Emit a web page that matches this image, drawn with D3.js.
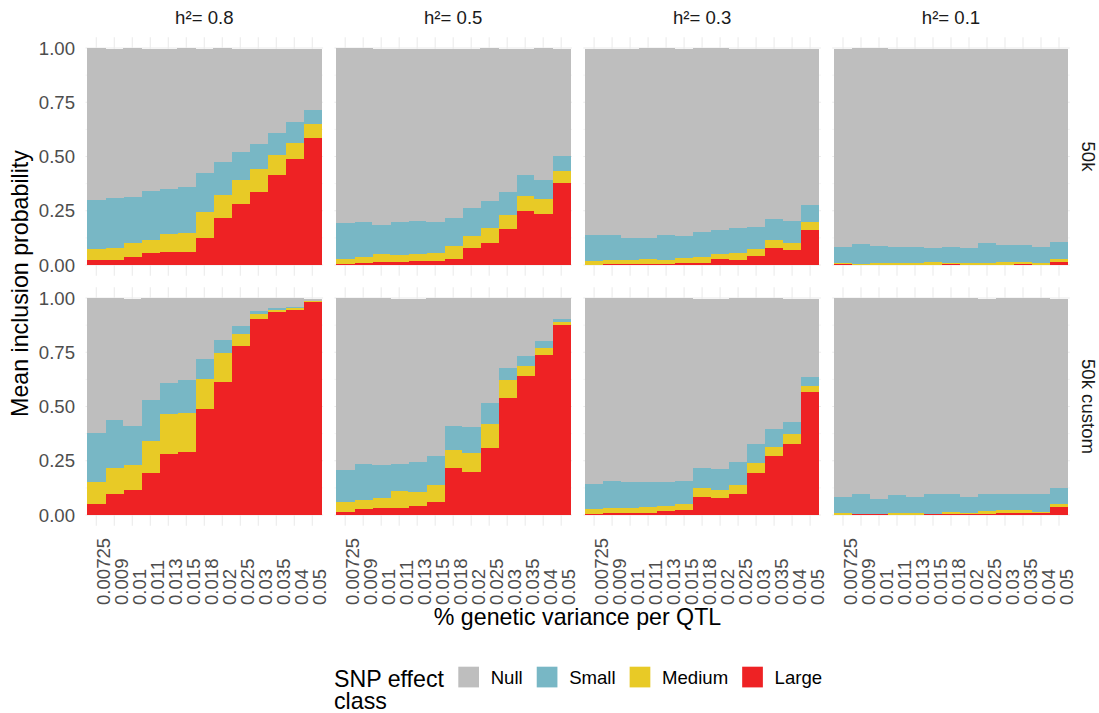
<!DOCTYPE html>
<html>
<head>
<meta charset="utf-8">
<script src="https://cdn.jsdelivr.net/npm/d3@7"></script>
<style>
  html, body { margin: 0; padding: 0; background: #ffffff; }
  svg { display: block; font-family: "Liberation Sans", Arial, Helvetica, sans-serif; }
</style>
</head>
<body>
<svg id="chart" width="1099" height="713"></svg>
<script>
// ---------------- data ----------------
const categories = ["0.00725","0.009","0.01","0.011","0.013","0.015","0.018","0.02","0.025","0.03","0.035","0.04","0.05"];
const heritabilities = ["h\u00b2= 0.8","h\u00b2= 0.5","h\u00b2= 0.3","h\u00b2= 0.1"];
const chips = ["50k","50k custom"];
const classes = ["Null","Small","Medium","Large"];
const classColors = ["#BEBEBE","#78B7C5","#E8CA26","#EE2224"];
const yTicks = [0, 0.25, 0.5, 0.75, 1];
const yTickLabels = ["0.00","0.25","0.50","0.75","1.00"];
const legendTitleLines = ["SNP effect", "class"];

// 50k, h2 = 0.8
const large_50k_h08  = [0.023,0.023,0.037,0.055,0.060,0.060,0.124,0.217,0.281,0.336,0.415,0.488,0.585];
const medium_50k_h08 = [0.051,0.055,0.064,0.060,0.083,0.087,0.120,0.106,0.111,0.106,0.092,0.074,0.065];
const small_50k_h08  = [0.226,0.231,0.212,0.226,0.207,0.212,0.180,0.152,0.129,0.116,0.101,0.097,0.064];
const null_50k_h08   = [0.698,0.686,0.687,0.654,0.645,0.641,0.571,0.525,0.474,0.437,0.387,0.336,0.281];
// 50k, h2 = 0.5
const large_50k_h05  = [0.005,0.009,0.014,0.014,0.018,0.018,0.028,0.078,0.101,0.166,0.249,0.235,0.378];
const medium_50k_h05 = [0.023,0.028,0.037,0.032,0.033,0.037,0.060,0.056,0.070,0.064,0.069,0.069,0.055];
const small_50k_h05  = [0.166,0.161,0.133,0.152,0.152,0.143,0.129,0.129,0.124,0.106,0.097,0.088,0.069];
const null_50k_h05   = [0.806,0.802,0.811,0.797,0.792,0.797,0.778,0.732,0.705,0.659,0.580,0.608,0.493];
// 50k, h2 = 0.3
const large_50k_h03  = [0.002,0.005,0.005,0.003,0.005,0.009,0.009,0.028,0.023,0.041,0.078,0.069,0.161];
const medium_50k_h03 = [0.016,0.018,0.018,0.025,0.018,0.023,0.028,0.023,0.032,0.033,0.037,0.032,0.037];
const small_50k_h03  = [0.120,0.115,0.101,0.096,0.115,0.102,0.115,0.110,0.116,0.101,0.097,0.102,0.078];
const null_50k_h03   = [0.857,0.857,0.871,0.876,0.862,0.861,0.848,0.839,0.824,0.820,0.783,0.792,0.719];
// 50k, h2 = 0.1
const large_50k_h01  = [0.003,0.002,0.002,0.002,0.002,0.000,0.003,0.002,0.002,0.002,0.005,0.002,0.014];
const medium_50k_h01 = [0.006,0.003,0.007,0.007,0.007,0.014,0.006,0.007,0.007,0.012,0.009,0.007,0.014];
const small_50k_h01  = [0.074,0.092,0.079,0.074,0.074,0.064,0.074,0.069,0.092,0.078,0.078,0.074,0.078];
const null_50k_h01   = [0.912,0.903,0.912,0.912,0.912,0.917,0.912,0.917,0.894,0.903,0.903,0.912,0.889];
// 50k custom, h2 = 0.8
const large_custom_h08  = [0.051,0.097,0.115,0.194,0.281,0.290,0.488,0.613,0.779,0.903,0.935,0.945,0.982];
const medium_custom_h08 = [0.101,0.120,0.115,0.147,0.184,0.180,0.139,0.134,0.055,0.023,0.010,0.009,0.004];
const small_custom_h08  = [0.226,0.221,0.180,0.189,0.143,0.152,0.092,0.059,0.037,0.014,0.009,0.005,0.002];
const null_custom_h08   = [0.622,0.562,0.585,0.470,0.392,0.378,0.281,0.194,0.129,0.060,0.046,0.041,0.007];
// 50k custom, h2 = 0.5
const large_custom_h05  = [0.014,0.028,0.032,0.032,0.041,0.060,0.217,0.198,0.309,0.539,0.641,0.737,0.876];
const medium_custom_h05 = [0.046,0.041,0.046,0.079,0.065,0.078,0.083,0.088,0.110,0.083,0.046,0.033,0.013];
const small_custom_h05  = [0.147,0.166,0.152,0.124,0.138,0.134,0.110,0.120,0.097,0.055,0.046,0.032,0.014];
const null_custom_h05   = [0.793,0.765,0.770,0.760,0.751,0.728,0.590,0.594,0.484,0.323,0.267,0.198,0.097];
// 50k custom, h2 = 0.3
const large_custom_h03  = [0.005,0.009,0.009,0.009,0.018,0.023,0.083,0.078,0.097,0.194,0.272,0.327,0.567];
const medium_custom_h03 = [0.023,0.023,0.023,0.028,0.023,0.028,0.041,0.037,0.041,0.046,0.041,0.046,0.027];
const small_custom_h03  = [0.115,0.125,0.120,0.115,0.111,0.106,0.093,0.097,0.106,0.087,0.083,0.056,0.042];
const null_custom_h03   = [0.857,0.843,0.848,0.848,0.848,0.843,0.778,0.783,0.756,0.673,0.604,0.566,0.359];
// 50k custom, h2 = 0.1
const large_custom_h01  = [0.000,0.003,0.003,0.000,0.000,0.003,0.003,0.003,0.003,0.009,0.009,0.009,0.037];
const medium_custom_h01 = [0.009,0.002,0.002,0.009,0.009,0.002,0.011,0.006,0.015,0.014,0.014,0.005,0.014];
const small_custom_h01  = [0.074,0.092,0.069,0.083,0.074,0.092,0.083,0.074,0.079,0.074,0.074,0.083,0.073];
const null_custom_h01   = [0.917,0.903,0.926,0.908,0.917,0.903,0.903,0.917,0.898,0.903,0.903,0.903,0.871];

const panelSeries = [
  [ {Null:null_50k_h08, Small:small_50k_h08, Medium:medium_50k_h08, Large:large_50k_h08},
    {Null:null_50k_h05, Small:small_50k_h05, Medium:medium_50k_h05, Large:large_50k_h05},
    {Null:null_50k_h03, Small:small_50k_h03, Medium:medium_50k_h03, Large:large_50k_h03},
    {Null:null_50k_h01, Small:small_50k_h01, Medium:medium_50k_h01, Large:large_50k_h01} ],
  [ {Null:null_custom_h08, Small:small_custom_h08, Medium:medium_custom_h08, Large:large_custom_h08},
    {Null:null_custom_h05, Small:small_custom_h05, Medium:medium_custom_h05, Large:large_custom_h05},
    {Null:null_custom_h03, Small:small_custom_h03, Medium:medium_custom_h03, Large:large_custom_h03},
    {Null:null_custom_h01, Small:small_custom_h01, Medium:medium_custom_h01, Large:large_custom_h01} ]
];

// ---------------- layout ----------------
const svg = d3.select("#chart");
const colorScale = d3.scaleOrdinal().domain(classes).range(classColors);
const stackKeys = ["Large","Medium","Small","Null"];
const stack = d3.stack().keys(stackKeys);

const bandLeft0 = 87.3, bandWidth = 234, colStep = 248.9;
const rowY0 = [265, 515], unit = 217;
const panelPadX = 1.8;
const gridColor = "#EBEBEB";
const tickColor = "#4D4D4D";
const tickFont = 18.6, titleFont = 23.2;

for (let r = 0; r < chips.length; r++) {
  const y = d3.scaleLinear().domain([-0.05, 1.05])
    .range([rowY0[r] + 0.05 * unit, rowY0[r] - 1.05 * unit]);
  for (let c = 0; c < heritabilities.length; c++) {
    const x0 = bandLeft0 + c * colStep;
    const x = d3.scaleBand().domain(categories).range([x0, x0 + bandWidth]).padding(0);
    const pL = x0 - panelPadX, pR = x0 + bandWidth + panelPadX;
    const g = svg.append("g");

    // minor y grid
    g.append("g").selectAll("line").data([0.125,0.375,0.625,0.875]).join("line")
      .attr("x1", pL).attr("x2", pR).attr("y1", d => y(d)).attr("y2", d => y(d))
      .attr("stroke", gridColor).attr("stroke-width", 0.55);
    // major y grid
    g.append("g").selectAll("line").data(yTicks).join("line")
      .attr("x1", pL).attr("x2", pR).attr("y1", d => y(d)).attr("y2", d => y(d))
      .attr("stroke", gridColor).attr("stroke-width", 1.1);
    // major x grid
    g.append("g").selectAll("line").data(categories).join("line")
      .attr("x1", d => x(d) + x.bandwidth()/2).attr("x2", d => x(d) + x.bandwidth()/2)
      .attr("y1", y(1.05)).attr("y2", y(-0.05))
      .attr("stroke", gridColor).attr("stroke-width", 1.1);

    // stacked bars
    const s = panelSeries[r][c];
    const rows = categories.map((cat, i) => {
      const o = {cat};
      stackKeys.forEach(k => o[k] = s[k][i]);
      return o;
    });
    const stacked = stack(rows);
    g.append("g").selectAll("g").data(stacked).join("g")
      .attr("fill", d => colorScale(d.key))
      .selectAll("rect").data(d => d).join("rect")
      .attr("x", d => x(d.data.cat))
      .attr("width", x.bandwidth() + 0.3)
      .attr("y", d => y(d[1]))
      .attr("height", d => Math.max(0, y(d[0]) - y(d[1])))
      .attr("shape-rendering", "crispEdges");

    // y tick labels (first column)
    if (c === 0) {
      g.append("g").selectAll("text").data(yTicks).join("text")
        .attr("x", 75).attr("y", d => y(d) + 6.6)
        .attr("text-anchor", "end").attr("font-size", tickFont).attr("fill", tickColor)
        .text((d, i) => yTickLabels[i]);
    }
    // x tick labels (bottom row)
    if (r === chips.length - 1) {
      g.append("g").selectAll("text").data(categories).join("text")
        .attr("transform", d => `translate(${x(d) + x.bandwidth()/2 + 13.5},605) rotate(-90)`)
        .attr("text-anchor", "start").attr("font-size", tickFont).attr("fill", tickColor)
        .text(d => d);
    }
    // top strip
    if (r === 0) {
      svg.append("text").attr("x", (pL + pR) / 2).attr("y", 24)
        .attr("text-anchor", "middle").attr("font-size", tickFont).attr("fill", "#1A1A1A")
        .text(heritabilities[c]);
    }
    // right strip
    if (c === heritabilities.length - 1) {
      svg.append("text")
        .attr("transform", `translate(1081.5,${(y(1.05) + y(-0.05)) / 2}) rotate(90)`)
        .attr("text-anchor", "middle").attr("font-size", tickFont).attr("fill", "#1A1A1A")
        .text(chips[r]);
    }
  }
}

// axis titles
svg.append("text").attr("x", 577.5).attr("y", 625).attr("text-anchor", "middle")
  .attr("font-size", titleFont).attr("fill", "#000").text("% genetic variance per QTL");
svg.append("text").attr("transform", "translate(27.5,283.5) rotate(-90)")
  .attr("text-anchor", "middle").attr("font-size", titleFont).attr("fill", "#000")
  .text("Mean inclusion probability");

// legend
const leg = svg.append("g");
const legTitle = leg.append("text").attr("x", 334).attr("y", 686.5)
  .attr("font-size", titleFont).attr("fill", "#000");
legTitle.selectAll("tspan").data(legendTitleLines).join("tspan")
  .attr("x", 334).attr("dy", (d, i) => i === 0 ? 0 : 22.5).text(d => d);
let lx = 458.3;
const keySize = 20.7, keyTop = 666.7;
classes.forEach(cl => {
  leg.append("rect").attr("x", lx).attr("y", keyTop).attr("width", keySize).attr("height", keySize)
    .attr("fill", colorScale(cl));
  const t = leg.append("text").attr("x", lx + keySize + 11.7).attr("y", keyTop + keySize / 2 + 6.6)
    .attr("font-size", tickFont).attr("fill", "#000").text(cl);
  const w = t.node().getComputedTextLength();
  lx = lx + keySize + 11.7 + w + 14;
});
</script>
</body>
</html>
